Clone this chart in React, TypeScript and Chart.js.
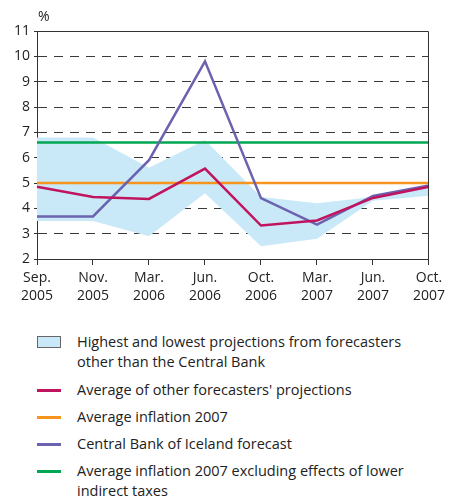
import React, { useEffect, useRef } from "react";
import { Chart, registerables } from "chart.js";

Chart.register(...registerables);

const categories: string[][] = [
  ["Sep.", "2005"],
  ["Nov.", "2005"],
  ["Mar.", "2006"],
  ["Jun.", "2006"],
  ["Oct.", "2006"],
  ["Mar.", "2007"],
  ["Jun.", "2007"],
  ["Oct.", "2007"],
];

const bandHigh = [6.8, 6.8, 5.6, 6.7, 4.45, 4.2, 4.45, 4.85];
const bandLow = [3.5, 3.5, 2.9, 4.6, 2.5, 2.8, 4.3, 4.5];
const avgOthers = [4.85, 4.45, 4.37, 5.57, 3.32, 3.52, 4.41, 4.85];
const centralBank = [3.68, 3.68, 5.9, 9.8, 4.4, 3.36, 4.49, 4.9];
const avgInflation2007 = [5.0, 5.0, 5.0, 5.0, 5.0, 5.0, 5.0, 5.0];
const avgInflationExTax = [6.6, 6.6, 6.6, 6.6, 6.6, 6.6, 6.6, 6.6];

const yMin = 2;
const yMax = 11;

const COLORS = {
  band: "#c9e9f8",
  red: "#c0145f",
  purple: "#6b62b0",
  orange: "#f7941d",
  green: "#00a651",
  axis: "#333333",
  text: "#222222",
};

const FONT = "'Open Sans', 'DejaVu Sans', sans-serif";

const legendItems = [
  { type: "box", color: COLORS.band, text: ["Highest and lowest projections from forecasters", "other than the Central Bank"] },
  { type: "line", color: COLORS.red, text: ["Average of other forecasters' projections"] },
  { type: "line", color: COLORS.orange, text: ["Average inflation 2007"] },
  { type: "line", color: COLORS.purple, text: ["Central Bank of Iceland forecast"] },
  { type: "line", color: COLORS.green, text: ["Average inflation 2007 excluding effects of lower", "indirect taxes"] },
];

const framePlugin = {
  id: "frame",
  afterDraw(chart: any) {
    const { ctx, chartArea } = chart;
    ctx.save();
    ctx.strokeStyle = COLORS.axis;
    ctx.lineWidth = 1;
    ctx.beginPath();
    ctx.moveTo(chartArea.left, chartArea.top + 0.5);
    ctx.lineTo(chartArea.right - 0.5, chartArea.top + 0.5);
    ctx.lineTo(chartArea.right - 0.5, chartArea.bottom);
    ctx.stroke();
    ctx.fillStyle = COLORS.text;
    ctx.font = `14px ${FONT}`;
    ctx.textAlign = "left";
    ctx.textBaseline = "middle";
    ctx.fillText("%", chartArea.left + 1, chartArea.top - 14);
    ctx.restore();
  },
};

const lineDs = (label: string, data: number[], color: string) => ({
  label,
  data,
  borderColor: color,
  backgroundColor: color,
  borderWidth: 2.5,
  pointRadius: 0,
  fill: false,
  tension: 0,
});

export default function App() {
  const canvasRef = useRef<HTMLCanvasElement | null>(null);

  useEffect(() => {
    if (!canvasRef.current) return;
    const chart = new Chart(canvasRef.current, {
      type: "line",
      data: {
        labels: categories,
        datasets: [
          lineDs("Average of other forecasters' projections", avgOthers, COLORS.red),
          lineDs("Central Bank of Iceland forecast", centralBank, COLORS.purple),
          lineDs("Average inflation 2007", avgInflation2007, COLORS.orange),
          lineDs("Average inflation 2007 excluding effects of lower indirect taxes", avgInflationExTax, COLORS.green),
          {
            label: "High",
            data: bandHigh,
            borderWidth: 0,
            borderColor: "rgba(0,0,0,0)",
            backgroundColor: COLORS.band,
            pointRadius: 0,
            fill: "+1",
            tension: 0,
          },
          {
            label: "Low",
            data: bandLow,
            borderWidth: 0,
            borderColor: "rgba(0,0,0,0)",
            backgroundColor: COLORS.band,
            pointRadius: 0,
            fill: false,
            tension: 0,
          },
        ],
      },
      options: {
        responsive: false,
        animation: false,
        events: [],
        layout: { padding: { left: 0, right: 0, top: 31, bottom: 0 } },
        plugins: {
          legend: { display: false },
          tooltip: { enabled: false },
        },
        scales: {
          x: {
            type: "category",
            offset: false,
            grid: {
              drawOnChartArea: false,
              drawTicks: true,
              tickLength: 6,
              tickColor: COLORS.axis,
            },
            border: { display: true, color: COLORS.axis, width: 1 },
            ticks: {
              autoSkip: false,
              maxRotation: 0,
              minRotation: 0,
              padding: 4,
              color: COLORS.text,
              font: { family: FONT, size: 14, lineHeight: 1.3 },
            },
            afterFit(scale: any) {
              scale.height = 51;
            },
          },
          y: {
            min: yMin,
            max: yMax,
            ticks: {
              stepSize: 1,
              padding: 4,
              color: COLORS.text,
              font: { family: FONT, size: 14 },
            },
            grid: {
              drawOnChartArea: true,
              drawTicks: true,
              tickLength: 3,
              tickColor: COLORS.axis,
              color: (ctx: any) => {
                const v = ctx.tick ? ctx.tick.value : null;
                return v === yMin || v === yMax ? "rgba(0,0,0,0)" : "#3a3a3a";
              },
              lineWidth: 1,
            },
            border: { display: true, color: COLORS.axis, width: 1, dash: [9, 7] },
            afterFit(scale: any) {
              scale.width = 37;
            },
          },
        },
      },
      plugins: [framePlugin],
    } as any);
    return () => chart.destroy();
  }, []);

  return (
    <div
      style={{
        position: "absolute",
        left: 0,
        top: 0,
        width: 449,
        height: 497,
        background: "#fff",
        overflow: "hidden",
        fontFamily: FONT,
      }}
    >
      <canvas ref={canvasRef} width={449} height={310} style={{ display: "block" }} />
      <div style={{ position: "absolute", left: 0, top: 332, width: 449 }}>
        {legendItems.map((it, i) => (
          <div key={i} style={{ display: "flex", alignItems: "flex-start", marginBottom: i === 0 ? 8 : 7 }}>
            <div style={{ width: 77, position: "relative", height: 20, flexShrink: 0 }}>
              {it.type === "box" ? (
                <div
                  style={{
                    position: "absolute",
                    left: 37,
                    top: 4,
                    width: 22,
                    height: 10,
                    background: it.color,
                    border: "1px solid #666",
                  }}
                />
              ) : (
                <div
                  style={{
                    position: "absolute",
                    left: 37,
                    top: 9,
                    width: 24,
                    height: 3,
                    background: it.color,
                  }}
                />
              )}
            </div>
            <div style={{ fontSize: 14.5, lineHeight: "20px", color: COLORS.text }}>
              {it.text.map((t, j) => (
                <div key={j} style={{ whiteSpace: "nowrap" }}>{t}</div>
              ))}
            </div>
          </div>
        ))}
      </div>
    </div>
  );
}
